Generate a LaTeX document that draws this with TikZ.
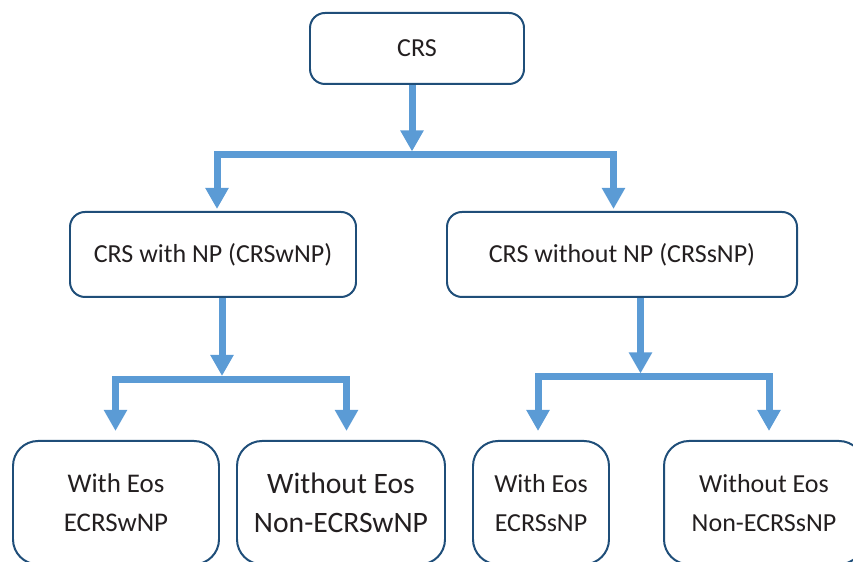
\documentclass[tikz,border=0pt]{standalone}
\usepackage{fontspec}
\setmainfont{Carlito}
\usepackage{tikz}
\usetikzlibrary{arrows.meta,positioning}
\definecolor{boxblue}{RGB}{31,78,121}
\definecolor{flowblue}{RGB}{91,155,213}
\definecolor{textgray}{RGB}{35,31,32}

\begin{document}
\begin{tikzpicture}[
  box/.style={draw=boxblue,line width=1.7pt,rounded corners=0.45cm,fill=white,text=textgray,
    align=center,font=\fontsize{22.2}{33.3}\selectfont,minimum height=2.55cm},
  leaf/.style={box,rounded corners=0.75cm,minimum height=3.7cm},
  flow/.style={draw=flowblue,line width=0.21cm,-{Triangle[width=0.66cm,length=0.63cm]}},
  split/.style={flow,{Triangle[width=0.66cm,length=0.63cm]}-{Triangle[width=0.66cm,length=0.63cm]}}
]
\useasboundingbox (0,0) rectangle (25.59,16.86);

\node[box,minimum width=6.42cm,minimum height=2.13cm] (crs) at (12.51,15.405) {CRS};
\node[box,minimum width=8.58cm] (withnp) at (6.39,9.225) {CRS with NP (CRSwNP)};
\node[box,minimum width=10.5cm] (sansnp) at (18.66,9.225) {CRS without NP (CRSsNP)};

\node[leaf,minimum width=6.18cm,font=\fontsize{23}{33.3}\selectfont] (ecrswnp) at (3.48,1.78) {With Eos\\ECRSwNP};
\node[leaf,minimum width=6.24cm,font=\fontsize{25.3}{33.3}\selectfont] (necrswnp) at (10.23,1.78) {Without Eos\\Non-ECRSwNP};
\node[leaf,minimum width=4.08cm] (ecrssnp) at (16.23,1.78) {With Eos\\ECRSsNP};
\node[leaf,minimum width=6cm] (necrssnp) at (22.92,1.78) {Without Eos\\Non-ECRSsNP};

% branch points
\coordinate (j1) at (12.36,12.21);
\coordinate (j1l) at (6.51,12.21);
\coordinate (j1r) at (18.405,12.21);
\coordinate (j2) at (6.66,5.475);
\coordinate (j2l) at (3.465,5.475);
\coordinate (j2r) at (10.395,5.475);
\coordinate (j3) at (19.215,5.55);
\coordinate (j3l) at (16.14,5.55);
\coordinate (j3r) at (23.07,5.55);

% CRS
\draw[flow,shorten >=0.105cm] (j1 |- crs.south) -- (j1);
\draw[split,shorten <=0.06cm,shorten >=0.06cm] (j1l |- withnp.north) -- (j1l) -- (j1r) -- (j1r |- sansnp.north);

% with NP
\draw[flow,shorten >=0.105cm] (j2 |- withnp.south) -- (j2);
\draw[split,shorten <=0.27cm,shorten >=0.27cm] (j2l |- ecrswnp.north) -- (j2l) -- (j2r) -- (j2r |- necrswnp.north);

% without NP
\draw[flow,shorten >=0.105cm] (j3 |- sansnp.south) -- (j3);
\draw[split,shorten <=0.27cm,shorten >=0.27cm] (j3l |- ecrssnp.north) -- (j3l) -- (j3r) -- (j3r |- necrssnp.north);
\end{tikzpicture}
\end{document}
